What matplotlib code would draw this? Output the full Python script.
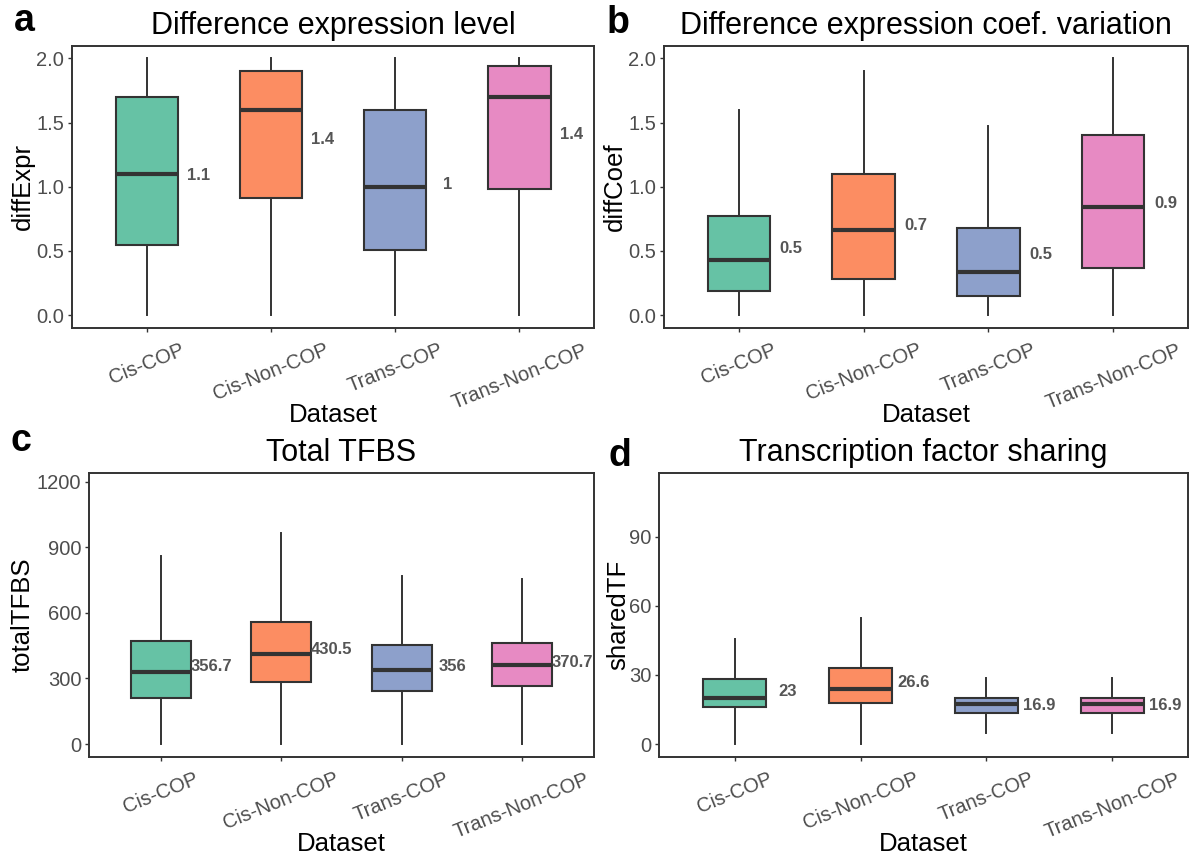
import matplotlib
matplotlib.use("Agg")
import matplotlib.pyplot as plt

plt.rcParams['font.family'] = ['Liberation Sans', 'DejaVu Sans']

categories = ['Cis-COP', 'Cis-Non-COP', 'Trans-COP', 'Trans-Non-COP']
colors = ['#66C2A5', '#FC8D62', '#8DA0CB', '#E78AC3']

# Panel a: diffExpr
expr_low = [0.0, 0.0, 0.0, 0.0]
expr_q1 = [0.55, 0.91, 0.51, 0.98]
expr_med = [1.10, 1.60, 1.00, 1.70]
expr_q3 = [1.70, 1.90, 1.60, 1.94]
expr_high = [2.0, 2.0, 2.0, 2.0]
expr_mean = [1.09, 1.37, 1.02, 1.41]

# Panel b: diffCoef
coef_low = [0.0, 0.0, 0.0, 0.0]
coef_q1 = [0.19, 0.28, 0.15, 0.37]
coef_med = [0.43, 0.66, 0.34, 0.84]
coef_q3 = [0.77, 1.10, 0.68, 1.40]
coef_high = [1.60, 1.90, 1.47, 2.0]
coef_mean = [0.52, 0.70, 0.47, 0.87]

# Panel c: totalTFBS
tfbs_low = [0, 0, 0, 0]
tfbs_q1 = [212, 284, 244, 265]
tfbs_med = [328, 413, 340, 360]
tfbs_q3 = [471, 557, 453, 462]
tfbs_high = [860, 964, 770, 755]
tfbs_mean = [356.7, 430.5, 356.0, 370.7]

# Panel d: sharedTF
tf_low = [0.0, 0.0, 4.9, 4.9]
tf_q1 = [15.9, 17.9, 13.6, 13.6]
tf_med = [20.1, 24.0, 17.2, 17.2]
tf_q3 = [28.1, 32.8, 20.0, 20.0]
tf_high = [45.7, 54.8, 28.8, 28.8]
tf_mean = [23.0, 26.6, 16.9, 16.9]

W, H = 1193, 859
fig = plt.figure(figsize=(W / 100, H / 100), dpi=100)


def px_axes(x0, x1, y0, y1):
    return fig.add_axes([x0 / W, 1 - y1 / H, (x1 - x0) / W, (y1 - y0) / H])


EDGE = '#333333'
TICKC = '#4D4D4D'


def fmt(v):
    return f"{round(v, 1):g}"


def panel(ax, low, q1, med, q3, high, mean, ylim, yticks, ytl, ylabel, title,
          ylab_x):
    stats = []
    for i in range(len(categories)):
        stats.append(dict(whislo=low[i], q1=q1[i], med=med[i], q3=q3[i],
                          whishi=high[i], fliers=[], label=categories[i]))
    pos = list(range(1, len(categories) + 1))
    bp = ax.bxp(stats, positions=pos, widths=0.5, patch_artist=True,
                showfliers=False, showcaps=False,
                boxprops=dict(edgecolor=EDGE, linewidth=1.5),
                whiskerprops=dict(color=EDGE, linewidth=1.4),
                medianprops=dict(color=EDGE, linewidth=3.0, solid_capstyle='butt'))
    for patch, c in zip(bp['boxes'], colors):
        patch.set_facecolor(c)
    for p, m in zip(pos, mean):
        ax.text(p + 0.42, m, fmt(m), ha='center', va='center',
                fontsize=12, fontweight='bold', color='#555555')
    ax.set_xlim(0.4, 4.6)
    ax.set_ylim(*ylim)
    ax.set_yticks(yticks)
    ax.set_yticklabels(ytl)
    ax.set_xticks(pos)
    ax.set_xticklabels(categories, rotation=22, ha='center', va='top')
    ax.tick_params(axis='both', colors=EDGE, labelcolor=TICKC, labelsize=14.5,
                   length=3, width=1)
    ax.tick_params(axis='x', pad=6)
    ax.tick_params(axis='y', pad=2.5)
    for s in ax.spines.values():
        s.set_color(EDGE)
        s.set_linewidth(1.4)
    ax.set_xlabel('Dataset', fontsize=18.5, color='black')
    ax.xaxis.set_label_coords(0.5, -0.265)
    ax.set_ylabel(ylabel, fontsize=18.5, color='black')
    ax.yaxis.set_label_coords(ylab_x, 0.5)
    ax.set_title(title, fontsize=22, color='black', pad=8.5)


ax_a = px_axes(72, 594, 45.6, 328)
panel(ax_a, expr_low, expr_q1, expr_med, expr_q3, expr_high, expr_mean,
      (-0.1, 2.1), [0, 0.5, 1.0, 1.5, 2.0], ['0.0', '0.5', '1.0', '1.5', '2.0'],
      'diffExpr', 'Difference expression level', -0.072)

ax_b = px_axes(664, 1188, 45.6, 328)
panel(ax_b, coef_low, coef_q1, coef_med, coef_q3, coef_high, coef_mean,
      (-0.1, 2.1), [0, 0.5, 1.0, 1.5, 2.0], ['0.0', '0.5', '1.0', '1.5', '2.0'],
      'diffCoef', 'Difference expression coef. variation', -0.07)

ax_c = px_axes(89, 594, 473, 757)
panel(ax_c, tfbs_low, tfbs_q1, tfbs_med, tfbs_q3, tfbs_high, tfbs_mean,
      (-59, 1239), [0, 300, 600, 900, 1200], ['0', '300', '600', '900', '1200'],
      'totalTFBS', 'Total TFBS', -0.108)

ax_d = px_axes(659, 1188, 473, 757)
panel(ax_d, tf_low, tf_q1, tf_med, tf_q3, tf_high, tf_mean,
      (-5.6, 117.6), [0, 30, 60, 90], ['0', '30', '60', '90'],
      'sharedTF', 'Transcription factor sharing', -0.055)

for letter, x, y in [('a', 14, 31), ('b', 607, 33), ('c', 11, 451), ('d', 608, 466)]:
    fig.text(x / W, 1 - y / H, letter, fontsize=27, fontweight='bold',
             color='black', ha='left', va='baseline')

fig.savefig('out.png', dpi=100)
